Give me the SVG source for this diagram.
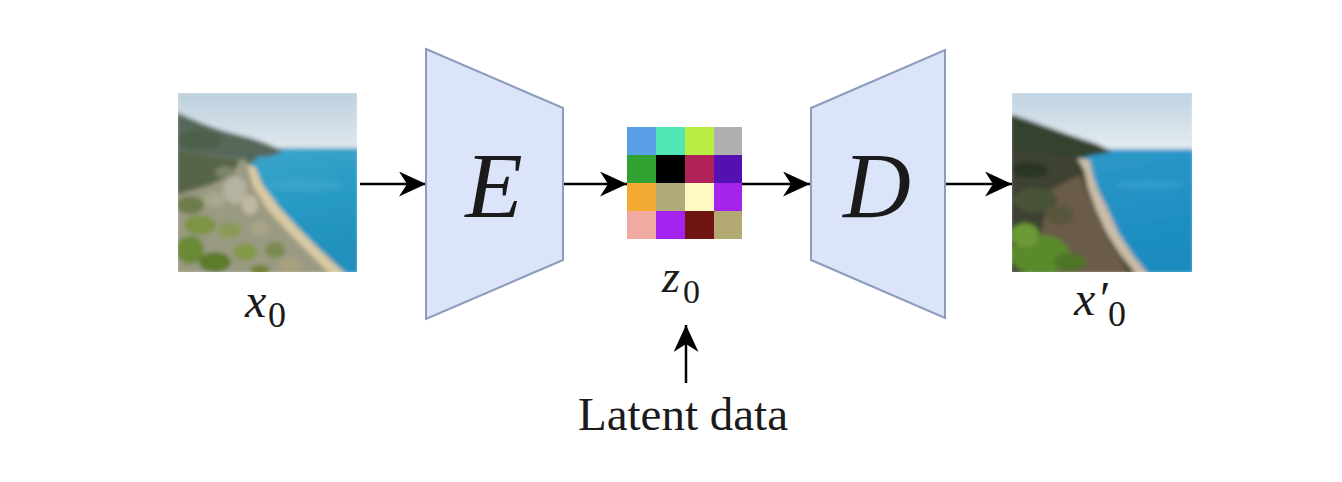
<svg xmlns="http://www.w3.org/2000/svg" width="1342" height="482" viewBox="0 0 1342 482">
<style>
.block{fill:#dbe4f8;stroke:#8d9cbc;stroke-width:2}
.conn{stroke:#000;stroke-width:2.5;fill:none}
.math{font-family:"Liberation Serif","Times New Roman",serif;font-style:italic;fill:#1a1a1a}
.sub{font-family:"Liberation Serif","Times New Roman",serif;font-style:normal;fill:#1a1a1a}
.lbl{font-family:"Liberation Serif","Times New Roman",serif;fill:#1a1a1a}
</style>
<defs>
<marker id="arr" markerUnits="userSpaceOnUse" markerWidth="27" markerHeight="25" refX="27" refY="12.5" orient="auto">
<path d="M0,0 L27,12.5 L0,25 L8,12.5 Z" fill="#000"/>
</marker>
<clipPath id="clipL"><rect x="178" y="93" width="179" height="179"/></clipPath>
<clipPath id="clipR"><rect x="1012" y="93" width="180" height="179"/></clipPath>
<filter id="soft" x="-5%" y="-5%" width="110%" height="110%"><feGaussianBlur stdDeviation="2"/></filter>
<linearGradient id="skyL" x1="0" y1="0" x2="0" y2="1"><stop offset="0" stop-color="#bccfde"/><stop offset="1" stop-color="#e2e9ee"/></linearGradient>
<linearGradient id="seaL" x1="0" y1="0" x2="0.3" y2="1"><stop offset="0" stop-color="#40a8cc"/><stop offset="0.5" stop-color="#2a9cc6"/><stop offset="1" stop-color="#2090bc"/></linearGradient>
<linearGradient id="skyR" x1="0" y1="0" x2="0" y2="1"><stop offset="0" stop-color="#c0d2e2"/><stop offset="1" stop-color="#e6edf1"/></linearGradient>
<linearGradient id="seaR" x1="0" y1="0" x2="0.3" y2="1"><stop offset="0" stop-color="#2f9cca"/><stop offset="0.5" stop-color="#2592c4"/><stop offset="1" stop-color="#1a8cc0"/></linearGradient>
</defs>
<rect width="1342" height="482" fill="#fff"/>

<g id="connectors">
<line class="conn" x1="360" y1="184" x2="426" y2="184" marker-end="url(#arr)"/>
<line class="conn" x1="563" y1="184" x2="627" y2="184" marker-end="url(#arr)"/>
<line class="conn" x1="742" y1="184" x2="810" y2="184" marker-end="url(#arr)"/>
<line class="conn" x1="945" y1="184" x2="1012" y2="184" marker-end="url(#arr)"/>
<line class="conn" x1="686" y1="383" x2="686" y2="325" marker-end="url(#arr)"/>
</g>

<g id="x0">
<g clip-path="url(#clipL)">
<g filter="url(#soft)">
<rect x="176" y="91" width="183" height="62" fill="url(#skyL)"/>
<rect x="176" y="148" width="183" height="126" fill="url(#seaL)"/>
<path d="M176,112 C195,121 215,129 235,134 C255,139 270,144 283,151 L272,156 L258,157 L250,165 L176,172 Z" fill="#56685a"/>
<path d="M176,150 L245,160 L252,172 L258,186 L272,208 L292,230 L312,250 L332,274 L176,274 Z" fill="#9a9a82"/>
<path d="M247,164 L256,168 L262,184 L279,207 L299,229 L320,250 L346,274 L330,274 L308,252 L288,232 L268,210 L253,186 Z" fill="#d9c9a2"/>
<path d="M176,150 L240,160 L232,175 L210,185 L176,195 Z" fill="#56654a"/>
<ellipse cx="200" cy="140" rx="22" ry="10" fill="#4d6048"/>
<ellipse cx="235" cy="190" rx="12" ry="14" fill="#b5b2a0"/>
<ellipse cx="215" cy="200" rx="10" ry="8" fill="#a8a890"/>
<ellipse cx="250" cy="205" rx="8" ry="10" fill="#c0b9a2"/>
<ellipse cx="190" cy="205" rx="14" ry="9" fill="#6c7c4c"/>
<ellipse cx="200" cy="225" rx="16" ry="10" fill="#7e9444"/>
<ellipse cx="230" cy="230" rx="12" ry="8" fill="#8c9a58"/>
<ellipse cx="260" cy="228" rx="9" ry="7" fill="#a8a488"/>
<ellipse cx="190" cy="250" rx="14" ry="14" fill="#6a8a34"/>
<ellipse cx="215" cy="262" rx="16" ry="10" fill="#5c7c2c"/>
<ellipse cx="245" cy="252" rx="12" ry="9" fill="#849a48"/>
<ellipse cx="275" cy="250" rx="10" ry="8" fill="#7a8a50"/>
<ellipse cx="290" cy="265" rx="12" ry="7" fill="#a8a07e"/>
<ellipse cx="260" cy="270" rx="10" ry="5" fill="#6e8038"/>
<ellipse cx="225" cy="172" rx="10" ry="6" fill="#7c8468"/>
<ellipse cx="305" cy="185" rx="40" ry="6" fill="#4aaed2" opacity="0.4"/>
</g>
</g>
<text class="math" x="245" y="317" font-size="48">x</text>
<text class="sub" x="268" y="327" font-size="36">0</text>
</g>

<g id="encoder">
<polygon class="block" points="426,49 563,108 563,260 426,319"/>
<text class="math" x="494" y="217" font-size="94" text-anchor="middle">E</text>
</g>

<g id="z0">
<rect x="627" y="127" width="29" height="28" fill="#5aa0e6"/>
<rect x="656" y="127" width="29" height="28" fill="#52e6b4"/>
<rect x="685" y="127" width="29" height="28" fill="#b9ef44"/>
<rect x="714" y="127" width="28" height="28" fill="#b0b0b0"/>
<rect x="627" y="155" width="29" height="28" fill="#30a232"/>
<rect x="656" y="155" width="29" height="28" fill="#000000"/>
<rect x="685" y="155" width="29" height="28" fill="#b0245a"/>
<rect x="714" y="155" width="28" height="28" fill="#5410b0"/>
<rect x="627" y="183" width="29" height="28" fill="#f2aa32"/>
<rect x="656" y="183" width="29" height="28" fill="#b2aa7a"/>
<rect x="685" y="183" width="29" height="28" fill="#fff8c2"/>
<rect x="714" y="183" width="28" height="28" fill="#a424ee"/>
<rect x="627" y="211" width="29" height="28" fill="#f0aaa2"/>
<rect x="656" y="211" width="29" height="28" fill="#a422f0"/>
<rect x="685" y="211" width="29" height="28" fill="#701412"/>
<rect x="714" y="211" width="28" height="28" fill="#b2aa72"/>
<text class="math" x="662" y="292" font-size="46">z</text>
<text class="sub" x="683" y="303" font-size="34">0</text>
</g>

<g id="latent-label">
<text class="lbl" x="683" y="430" font-size="47" text-anchor="middle">Latent data</text>
</g>

<g id="decoder">
<polygon class="block" points="811,108 945,50 945,318 811,260"/>
<text class="math" x="877" y="217" font-size="94" text-anchor="middle">D</text>
</g>

<g id="x0prime">
<g clip-path="url(#clipR)">
<g filter="url(#soft)">
<rect x="1010" y="91" width="184" height="62" fill="url(#skyR)"/>
<rect x="1010" y="149" width="184" height="125" fill="url(#seaR)"/>
<path d="M1010,114 C1035,122 1060,132 1085,140 C1098,144 1106,148 1112,152 L1094,155 L1082,158 L1010,170 Z" fill="#34422e"/>
<path d="M1010,150 L1078,158 L1084,168 L1090,186 L1100,206 L1110,230 L1124,252 L1140,274 L1010,274 Z" fill="#3e4232"/>
<path d="M1077,158 L1090,160 L1092,172 L1098,190 L1108,210 L1118,232 L1132,254 L1148,274 L1136,274 L1120,254 L1106,232 L1096,210 L1088,188 L1084,170 Z" fill="#cbbca6"/>
<path d="M1050,190 L1080,175 L1092,205 L1105,235 L1120,258 L1128,274 L1060,274 L1040,240 Z" fill="#6a5c48"/>
<ellipse cx="1040" cy="255" rx="30" ry="20" fill="#5a8a2c"/>
<ellipse cx="1025" cy="235" rx="14" ry="12" fill="#6c9a34"/>
<ellipse cx="1070" cy="262" rx="16" ry="9" fill="#4e7428"/>
<ellipse cx="1035" cy="200" rx="22" ry="12" fill="#4a5238"/>
<ellipse cx="1060" cy="215" rx="14" ry="10" fill="#58563e"/>
<ellipse cx="1030" cy="170" rx="18" ry="8" fill="#2c3626"/>
<ellipse cx="1150" cy="185" rx="35" ry="5" fill="#3aa6d2" opacity="0.5"/>
</g>
</g>
<text class="math" x="1074" y="315" font-size="48">x</text>
<text class="math" x="1097" y="315" font-size="48">′</text>
<text class="sub" x="1108" y="326" font-size="36">0</text>
</g>
</svg>
